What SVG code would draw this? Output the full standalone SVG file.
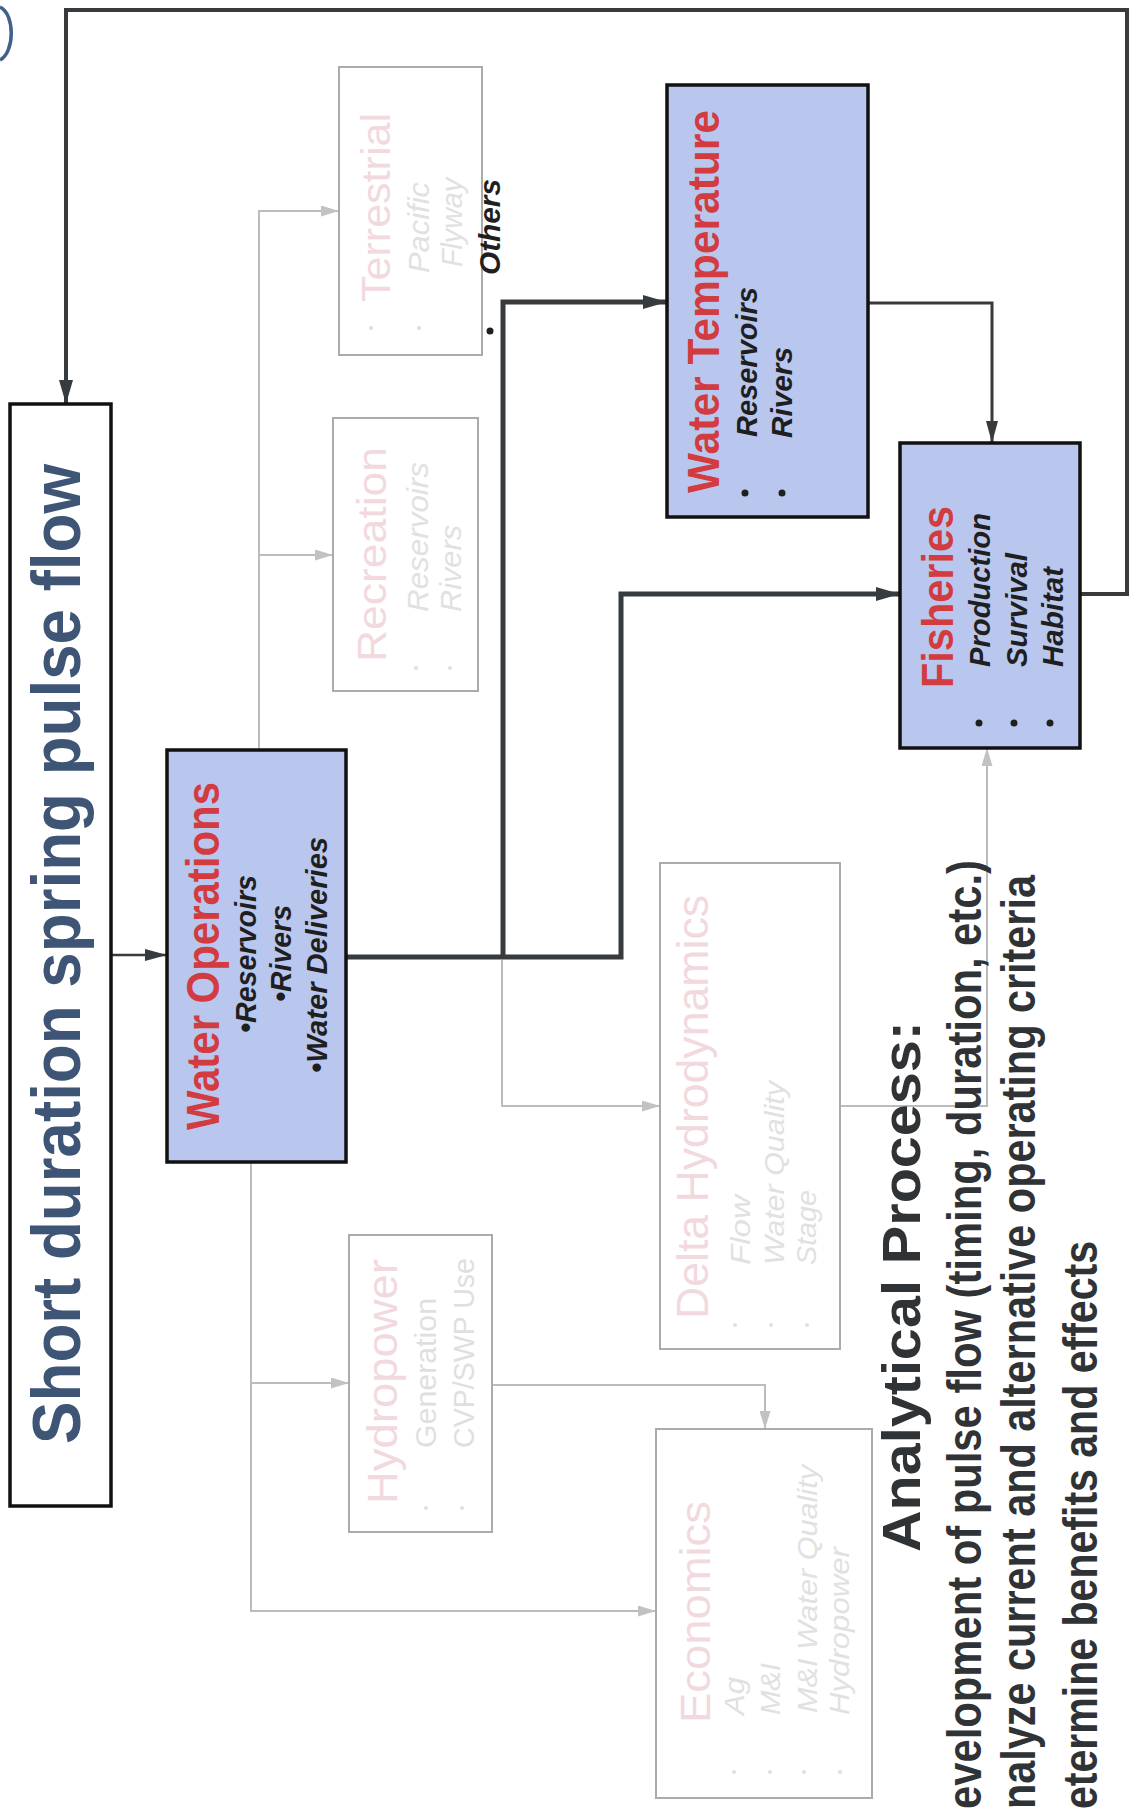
<svg xmlns="http://www.w3.org/2000/svg" width="1131" height="1809" viewBox="0 0 1131 1809">
  <style>
    text { font-family: "Liberation Sans", Arial, sans-serif; }
    .hdr { fill: #d23b3f; font-weight: bold; }
    .item { fill: #1f1f1f; font-weight: bold; font-style: italic; }
    .fadeT { fill: #f2d9dd; }
    .fadeI { fill: #e1e1e1; font-style: italic; }
    .fadeB { fill: #dfdfdf; }
    .box { fill: #b9c7ef; stroke: #111; stroke-width: 3.5; }
    .fbox { fill: #ffffff; stroke: #ababab; stroke-width: 2; }
    .dark { fill: none; stroke: #373b3e; stroke-linejoin: miter; }
    .gray { fill: none; stroke: #bcbcbc; stroke-width: 2; }
    .note { fill: #303336; font-family: "Liberation Sans Narrow", "Liberation Sans", Arial, sans-serif; font-weight: bold; }
    .dot { fill: #1f1f1f; }
  </style>
  <defs>
    <marker id="ahDark" markerUnits="userSpaceOnUse" markerWidth="24" markerHeight="14" viewBox="0 0 24 14" refX="24" refY="7" orient="auto">
      <path d="M0,0 L24,7 L0,14 z" fill="#373b3e"/>
    </marker>
    <marker id="ahThin" markerUnits="userSpaceOnUse" markerWidth="22" markerHeight="12" viewBox="0 0 22 12" refX="22" refY="6" orient="auto">
      <path d="M0,0 L22,6 L0,12 z" fill="#373b3e"/>
    </marker>
    <marker id="ahGray" markerUnits="userSpaceOnUse" markerWidth="18" markerHeight="11" viewBox="0 0 18 11" refX="18" refY="5.5" orient="auto">
      <path d="M0,0 L18,5.5 L0,11 z" fill="#c2c2c2"/>
    </marker>
  </defs>

  <!-- fragment of a circled mark at the top-left corner -->
  <path d="M0,7 C15,14 15,52 0,60" fill="none" stroke="#41608a" stroke-width="3.5"/>

  <!-- connectors -->
  <g id="connectors">
    <!-- feedback loop from Fisheries back to the pulse flow -->
    <path class="dark" stroke-width="4" d="M1080,594 H1127 V10 H66 V404" marker-end="url(#ahDark)"/>
    <!-- pulse flow to Water Operations -->
    <path class="dark" stroke-width="2.5" d="M111,955 H167" marker-end="url(#ahThin)"/>
    <!-- Water Operations to Fisheries -->
    <path class="dark" stroke-width="5" d="M346,957 H621 V594 H900" marker-end="url(#ahDark)"/>
    <!-- Water Operations to Water Temperature -->
    <path class="dark" stroke-width="5" d="M503,957 V302 H667" marker-end="url(#ahDark)"/>
    <!-- Water Temperature to Fisheries -->
    <path class="dark" stroke-width="3" d="M868,303 H992 V443" marker-end="url(#ahThin)"/>

    <!-- secondary (faded) links -->
    <path class="gray" d="M259,750 V211 H339" marker-end="url(#ahGray)"/>
    <path class="gray" d="M259,555 H333" marker-end="url(#ahGray)"/>
    <path class="gray" d="M251,1162 V1611 H656" marker-end="url(#ahGray)"/>
    <path class="gray" d="M251,1383 H349" marker-end="url(#ahGray)"/>
    <path class="gray" d="M492,1385 H765 V1429" marker-end="url(#ahGray)"/>
    <path class="gray" d="M502,960 V1106 H660" marker-end="url(#ahGray)"/>
    <path class="gray" d="M840,1106 H987 V748" marker-end="url(#ahGray)"/>
  </g>

  <!-- pulse flow -->
  <g id="node-pulse-flow">
    <rect x="10" y="404" width="101" height="1102" fill="#fff" stroke="#111" stroke-width="3.5"/>
    <text transform="translate(80,1444) rotate(-90)" font-size="68" font-weight="bold" fill="#3e5576" textLength="980" lengthAdjust="spacingAndGlyphs">Short duration spring pulse flow</text>
  </g>

  <!-- water operations -->
  <g id="node-water-operations">
    <rect class="box" x="167" y="750" width="179" height="412"/>
    <text class="hdr" transform="translate(219,1130) rotate(-90)" font-size="47" textLength="348" lengthAdjust="spacingAndGlyphs">Water Operations</text>
    <text class="item" transform="translate(256,1033) rotate(-90)" font-size="30" textLength="158" lengthAdjust="spacingAndGlyphs">•Reservoirs</text>
    <text class="item" transform="translate(291,1002) rotate(-90)" font-size="30" textLength="97" lengthAdjust="spacingAndGlyphs">•Rivers</text>
    <text class="item" transform="translate(327,1073) rotate(-90)" font-size="30" textLength="236" lengthAdjust="spacingAndGlyphs">•Water Deliveries</text>
  </g>

  <!-- terrestrial -->
  <g id="node-terrestrial">
    <rect class="fbox" x="339" y="67" width="143" height="288"/>
    <text class="fadeT" transform="translate(390,302) rotate(-90)" font-size="40" textLength="189" lengthAdjust="spacingAndGlyphs">Terrestrial</text>
    <text class="fadeI" transform="translate(429,273) rotate(-90)" font-size="30" textLength="91" lengthAdjust="spacingAndGlyphs">Pacific</text>
    <text class="fadeI" transform="translate(462,267) rotate(-90)" font-size="30" textLength="89" lengthAdjust="spacingAndGlyphs">Flyway</text>
    <circle class="fadeB" cx="371" cy="328" r="2"/>
    <circle class="fadeB" cx="419" cy="328" r="2"/>
  </g>

  <!-- others -->
  <g id="node-others">
    <text class="item" transform="translate(500,275) rotate(-90)" font-size="30" fill="#111" textLength="96" lengthAdjust="spacingAndGlyphs">Others</text>
    <circle class="dot" cx="490" cy="331" r="3.5"/>
  </g>

  <!-- recreation -->
  <g id="node-recreation">
    <rect class="fbox" x="333" y="418" width="145" height="273"/>
    <text class="fadeT" transform="translate(386,662) rotate(-90)" font-size="40" textLength="215" lengthAdjust="spacingAndGlyphs">Recreation</text>
    <text class="fadeI" transform="translate(428,612) rotate(-90)" font-size="30" textLength="150" lengthAdjust="spacingAndGlyphs">Reservoirs</text>
    <text class="fadeI" transform="translate(461,612) rotate(-90)" font-size="30" textLength="87" lengthAdjust="spacingAndGlyphs">Rivers</text>
    <circle class="fadeB" cx="416" cy="668" r="2"/>
    <circle class="fadeB" cx="450" cy="668" r="2"/>
  </g>

  <!-- water temperature -->
  <g id="node-water-temperature">
    <rect class="box" x="667" y="85" width="201" height="432"/>
    <text class="hdr" transform="translate(719,493) rotate(-90)" font-size="44" textLength="383" lengthAdjust="spacingAndGlyphs">Water Temperature</text>
    <text class="item" transform="translate(757,437) rotate(-90)" font-size="30" textLength="150" lengthAdjust="spacingAndGlyphs">Reservoirs</text>
    <text class="item" transform="translate(792,438) rotate(-90)" font-size="30" textLength="91" lengthAdjust="spacingAndGlyphs">Rivers</text>
    <circle class="dot" cx="745" cy="493" r="3.5"/>
    <circle class="dot" cx="782" cy="493" r="3.5"/>
  </g>

  <!-- fisheries -->
  <g id="node-fisheries">
    <rect class="box" x="900" y="443" width="180" height="305"/>
    <text class="hdr" transform="translate(953,688) rotate(-90)" font-size="44" textLength="182" lengthAdjust="spacingAndGlyphs">Fisheries</text>
    <text class="item" transform="translate(990,667) rotate(-90)" font-size="30" textLength="154" lengthAdjust="spacingAndGlyphs">Production</text>
    <text class="item" transform="translate(1027,667) rotate(-90)" font-size="30" textLength="114" lengthAdjust="spacingAndGlyphs">Survival</text>
    <text class="item" transform="translate(1063,667) rotate(-90)" font-size="30" textLength="100" lengthAdjust="spacingAndGlyphs">Habitat</text>
    <circle class="dot" cx="979" cy="723" r="3.5"/>
    <circle class="dot" cx="1014" cy="723" r="3.5"/>
    <circle class="dot" cx="1050" cy="723" r="3.5"/>
  </g>

  <!-- delta hydrodynamics -->
  <g id="node-delta-hydrodynamics">
    <rect class="fbox" x="660" y="863" width="180" height="486"/>
    <text class="fadeT" transform="translate(708,1319) rotate(-90)" font-size="44" textLength="424" lengthAdjust="spacingAndGlyphs">Delta Hydrodynamics</text>
    <text class="fadeI" transform="translate(750,1265) rotate(-90)" font-size="28" textLength="70" lengthAdjust="spacingAndGlyphs">Flow</text>
    <text class="fadeI" transform="translate(784,1265) rotate(-90)" font-size="28" textLength="184" lengthAdjust="spacingAndGlyphs">Water Quality</text>
    <text class="fadeI" transform="translate(816,1265) rotate(-90)" font-size="28" textLength="75" lengthAdjust="spacingAndGlyphs">Stage</text>
    <circle class="fadeB" cx="735" cy="1325" r="2"/>
    <circle class="fadeB" cx="771" cy="1325" r="2"/>
    <circle class="fadeB" cx="807" cy="1325" r="2"/>
  </g>

  <!-- hydropower -->
  <g id="node-hydropower">
    <rect class="fbox" x="349" y="1235" width="143" height="297"/>
    <text class="fadeT" transform="translate(397,1504) rotate(-90)" font-size="42" textLength="245" lengthAdjust="spacingAndGlyphs">Hydropower</text>
    <text class="fadeB" transform="translate(436,1448) rotate(-90)" font-size="30" textLength="150" lengthAdjust="spacingAndGlyphs">Generation</text>
    <text class="fadeB" transform="translate(474,1448) rotate(-90)" font-size="29" textLength="190" lengthAdjust="spacingAndGlyphs">CVP/SWP Use</text>
    <circle class="fadeB" cx="426" cy="1508" r="2"/>
    <circle class="fadeB" cx="462" cy="1508" r="2"/>
  </g>

  <!-- economics -->
  <g id="node-economics">
    <rect class="fbox" x="656" y="1429" width="216" height="369"/>
    <text class="fadeT" transform="translate(710,1723) rotate(-90)" font-size="43" textLength="222" lengthAdjust="spacingAndGlyphs">Economics</text>
    <text class="fadeI" transform="translate(744,1715) rotate(-90)" font-size="28" textLength="38" lengthAdjust="spacingAndGlyphs">Ag</text>
    <text class="fadeI" transform="translate(780,1715) rotate(-90)" font-size="28" textLength="52" lengthAdjust="spacingAndGlyphs">M&amp;I</text>
    <text class="fadeI" transform="translate(817,1713) rotate(-90)" font-size="28" textLength="248" lengthAdjust="spacingAndGlyphs">M&amp;I Water Quality</text>
    <text class="fadeI" transform="translate(849,1715) rotate(-90)" font-size="28" textLength="168" lengthAdjust="spacingAndGlyphs">Hydropower</text>
    <circle class="fadeB" cx="734" cy="1772" r="2"/>
    <circle class="fadeB" cx="770" cy="1772" r="2"/>
    <circle class="fadeB" cx="804" cy="1772" r="2"/>
    <circle class="fadeB" cx="840" cy="1772" r="2"/>
  </g>

  <!-- analytical process notes -->
  <g id="analytical-process">
    <text class="note" transform="translate(920,1552) rotate(-90)" font-size="54" textLength="531" lengthAdjust="spacingAndGlyphs">Analytical Process:</text>
    <text class="note" transform="translate(981,1809) rotate(-90)" font-size="48" textLength="949" lengthAdjust="spacingAndGlyphs">evelopment of pulse flow (timing, duration, etc.)</text>
    <text class="note" transform="translate(1035,1809) rotate(-90)" font-size="48" textLength="934" lengthAdjust="spacingAndGlyphs">nalyze current and alternative operating criteria</text>
    <text class="note" transform="translate(1097,1809) rotate(-90)" font-size="48" textLength="568" lengthAdjust="spacingAndGlyphs">etermine benefits and effects</text>
  </g>
</svg>
